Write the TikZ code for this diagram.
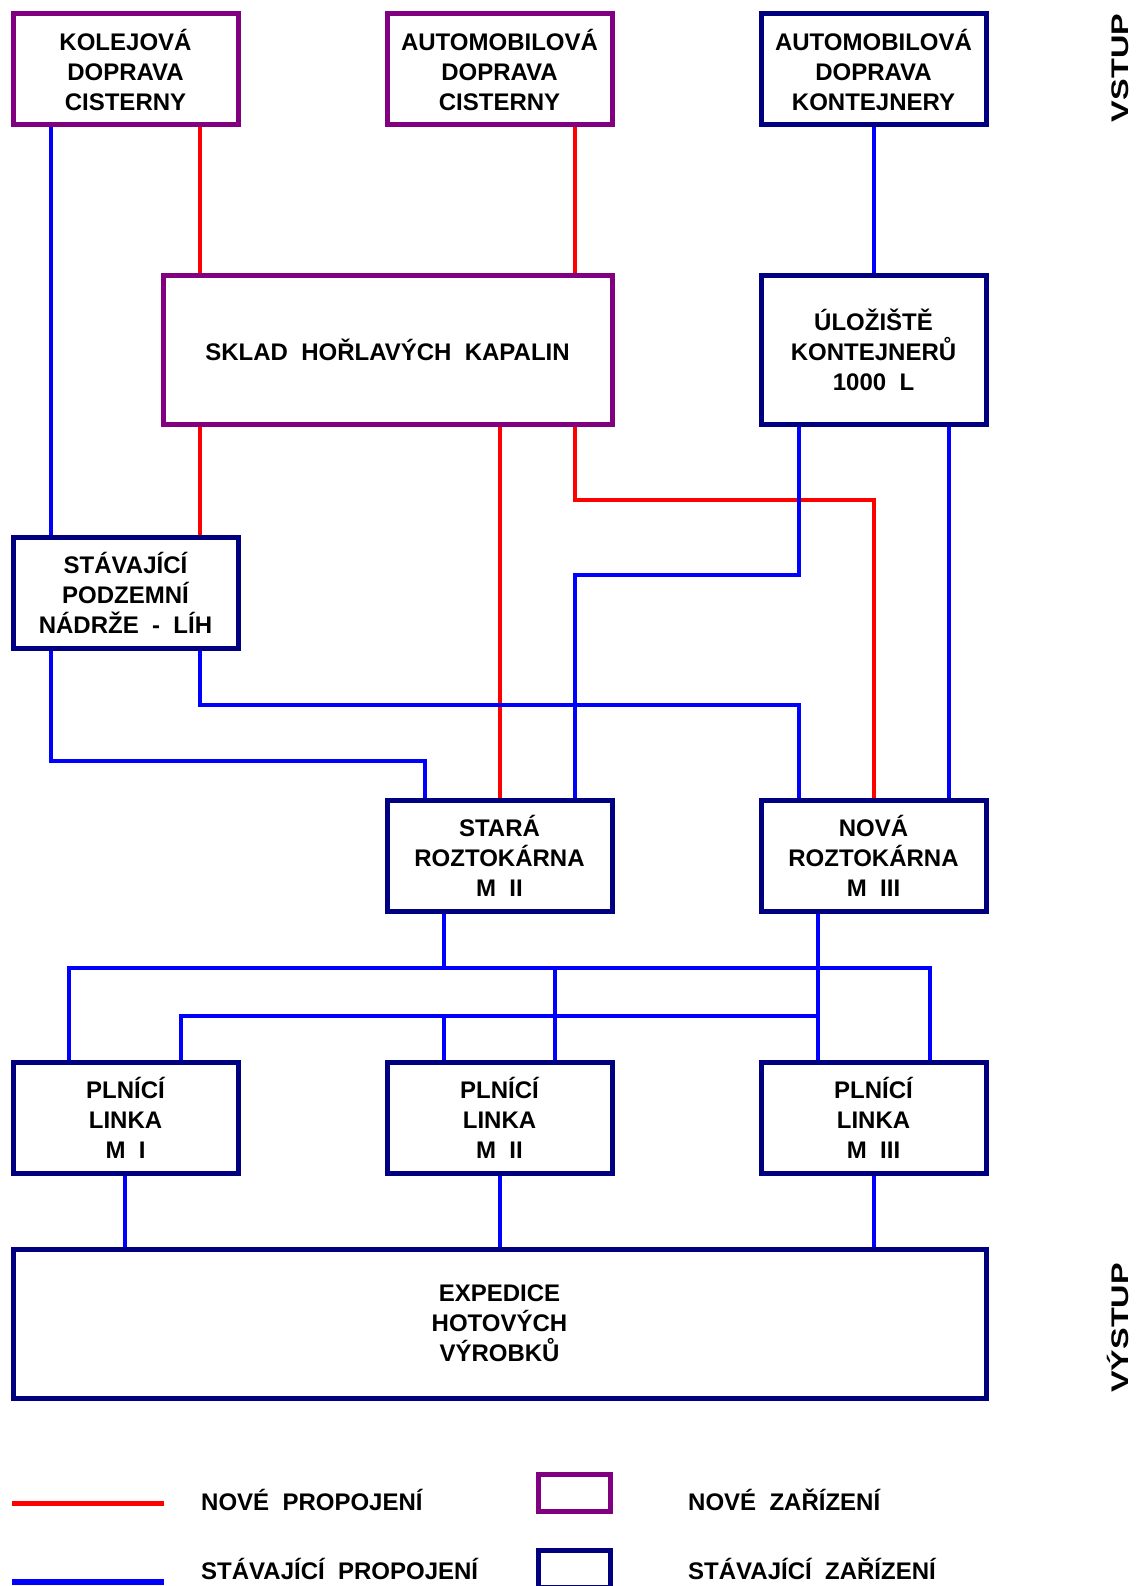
\documentclass[tikz,border=0pt]{standalone}
\usepackage{fontspec}
\setmainfont{Liberation Sans}
\newfontfamily\widefont[FakeStretch=1.35]{Liberation Sans}
\usetikzlibrary{backgrounds}
\definecolor{newc}{HTML}{800080}
\definecolor{oldc}{HTML}{000080}
\definecolor{newl}{HTML}{FF0000}
\definecolor{oldl}{HTML}{0000FF}
\begin{document}
\begin{tikzpicture}[x=1pt,y=-1pt,
  box/.style={rectangle, line width=5pt, inner sep=0pt, outer sep=0pt, align=center,
    font=\fontsize{24}{30}\selectfont\bfseries},
  newbox/.style={box, draw=newc},
  oldbox/.style={box, draw=oldc},
  small/.style={minimum width=225pt, minimum height=111pt},
  tall/.style={minimum width=225pt, minimum height=148pt},
  newlink/.style={draw=newl, line width=4pt},
  oldlink/.style={draw=oldl, line width=4pt},
  legtext/.style={anchor=base west, inner sep=0pt, font=\fontsize{24}{30}\selectfont\bfseries},
  sidetext/.style={anchor=base, rotate=90, inner sep=0pt, font=\fontsize{24}{30}\selectfont\widefont\bfseries}]
\useasboundingbox (0,0) rectangle (1140,1586);
\clip (0,0) rectangle (1140,1586);

% boxes
\node[newbox, small] (b1) at (125.5,69.5) {KOLEJOVÁ\\DOPRAVA\\CISTERNY};
\node[newbox, small] (b2) at (499.5,69.5) {AUTOMOBILOVÁ\\DOPRAVA\\CISTERNY};
\node[oldbox, small] (b3) at (873.5,69.5) {AUTOMOBILOVÁ\\DOPRAVA\\KONTEJNERY};
\node[newbox, minimum width=449pt, minimum height=148pt] (sk) at (387.5,350) {SKLAD\ \ HOŘLAVÝCH\ \ KAPALIN};
\node[oldbox, tall] (ul) at (873.5,350) {ÚLOŽIŠTĚ\\KONTEJNERŮ\\1000\ \ L};
\node[oldbox, small] (st) at (125.5,592.5) {STÁVAJÍCÍ\\PODZEMNÍ\\NÁDRŽE\ \ -\ \ LÍH};
\node[oldbox, small] (sr) at (499.5,855.5) {STARÁ\\ROZTOKÁRNA\\M\ \ II};
\node[oldbox, small] (nr) at (873.5,855.5) {NOVÁ\\ROZTOKÁRNA\\M\ \ III};
\node[oldbox, small] (p1) at (125.5,1117.5) {PLNÍCÍ\\LINKA\\M\ \ I};
\node[oldbox, small] (p2) at (499.5,1117.5) {PLNÍCÍ\\LINKA\\M\ \ II};
\node[oldbox, small] (p3) at (873.5,1117.5) {PLNÍCÍ\\LINKA\\M\ \ III};
\node[oldbox, minimum width=973pt, minimum height=149pt] (ex) at (499.5,1323.5) {EXPEDICE\\HOTOVÝCH\\VÝROBKŮ};

% side labels
\node[sidetext] (vstup) at (1128,68) {VSTUP};
\node[sidetext] (vystup) at (1128,1328) {VÝSTUP};

% connectors
\begin{scope}[on background layer]
\draw[newlink] (b1.south -| 200,0) -- (sk.north -| 200,0);
\draw[newlink] (b2.south -| 575,0) -- (sk.north -| 575,0);
\draw[newlink] (sk.south -| 200,0) -- (st.north -| 200,0);
\draw[newlink] (sk.south -| 500,0) -- (sr.north -| 500,0);
\draw[newlink] (sk.south -| 575,0) -- (575,500) -- (874,500) -- (nr.north -| 874,0);

\draw[oldlink] (b1.south -| 51,0) -- (st.north -| 51,0);
\draw[oldlink] (b3.south -| 874,0) -- (ul.north -| 874,0);
\draw[oldlink] (ul.south -| 799,0) -- (799,575) -- (575,575) -- (sr.north -| 575,0);
\draw[oldlink] (ul.south -| 949,0) -- (nr.north -| 949,0);
\draw[oldlink] (st.south -| 51,0) -- (51,761) -- (425,761) -- (sr.north -| 425,0);
\draw[oldlink] (st.south -| 200,0) -- (200,705) -- (799,705) -- (nr.north -| 799,0);

\draw[oldlink] (sr.south -| 444,0) -- (444,968);
\draw[oldlink] (p1.north -| 69,0) -- (69,968) -- (930,968) -- (p3.north -| 930,0);
\draw[oldlink] (555,968) -- (p2.north -| 555,0);
\draw[oldlink] (nr.south -| 818,0) -- (p3.north -| 818,0);
\draw[oldlink] (818,1016) -- (181,1016) -- (p1.north -| 181,0);
\draw[oldlink] (444,1016) -- (p2.north -| 444,0);

\draw[oldlink] (p1.south -| 125,0) -- (ex.north -| 125,0);
\draw[oldlink] (p2.south -| 500,0) -- (ex.north -| 500,0);
\draw[oldlink] (p3.south -| 874,0) -- (ex.north -| 874,0);
\end{scope}

% legend
\draw[newlink, line width=5pt] (12,1503) -- (164,1503);
\draw[oldlink, line width=6pt] (12,1582) -- (164,1582);
\node[newbox, minimum width=72pt, minimum height=37pt] (lnew) at (574.5,1493) {};
\node[oldbox, minimum width=72pt, minimum height=37pt] (lold) at (574.5,1569) {};
\node[legtext] (t1) at (201,1510) {NOVÉ\ \ PROPOJENÍ};
\node[legtext] (t2) at (201,1579) {STÁVAJÍCÍ\ \ PROPOJENÍ};
\node[legtext] (t3) at (688,1510) {NOVÉ\ \ ZAŘÍZENÍ};
\node[legtext] (t4) at (688,1579) {STÁVAJÍCÍ\ \ ZAŘÍZENÍ};
\end{tikzpicture}
\end{document}
